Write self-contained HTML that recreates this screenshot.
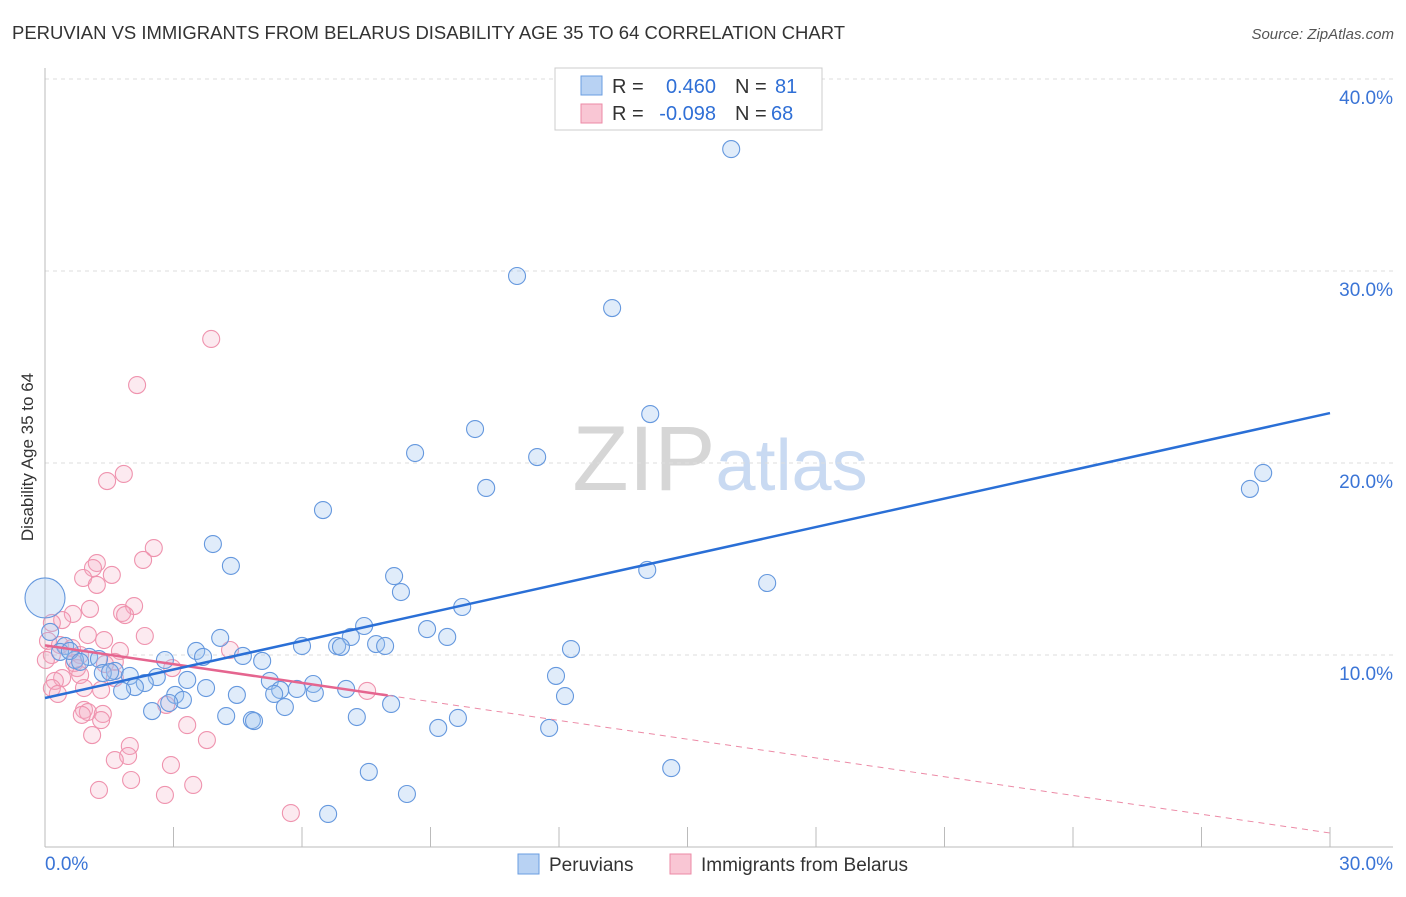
<!DOCTYPE html>
<html><head><meta charset="utf-8"><style>
body{margin:0;background:#fff;font-family:"Liberation Sans",sans-serif;}
svg text{font-family:"Liberation Sans",sans-serif;}
</style></head><body>
<svg id="chart" width="1406" height="892" viewBox="0 0 1406 892" xmlns="http://www.w3.org/2000/svg">
<text x="12" y="39" font-size="18" fill="#333" textLength="833" lengthAdjust="spacingAndGlyphs">PERUVIAN VS IMMIGRANTS FROM BELARUS DISABILITY AGE 35 TO 64 CORRELATION CHART</text>
<text x="1394" y="39" font-size="15" fill="#555" text-anchor="end" font-style="italic">Source: ZipAtlas.com</text>
<text x="720" y="490" font-size="92" text-anchor="middle" fill="#d6d6d6" font-family="Liberation Serif"><tspan>ZIP</tspan><tspan fill="#c9daf2" font-family="Liberation Sans" font-size="72">atlas</tspan></text>
<g id="grid"></g>
<g id="axes"></g>
<g id="marks"></g>
<text transform="translate(33,457) rotate(-90)" font-size="17" fill="#333" text-anchor="middle">Disability Age 35 to 64</text>
<g>
<rect x="555" y="68" width="267" height="62" fill="#fff" stroke="#ccc"/>
<rect x="581" y="76" width="21" height="19" fill="#b8d2f3" stroke="#6a9de0"/>
<rect x="581" y="104" width="21" height="19" fill="#f9c6d4" stroke="#ec8aa6"/>
<text x="612" y="93" font-size="20" fill="#333">R =</text>
<text x="716" y="93" font-size="20" fill="#2f6fd6" text-anchor="end">0.460</text>
<text x="735" y="93" font-size="20" fill="#333">N =</text>
<text x="775" y="93" font-size="20" fill="#2f6fd6">81</text>
<text x="612" y="120" font-size="20" fill="#333">R =</text>
<text x="716" y="120" font-size="20" fill="#2f6fd6" text-anchor="end">-0.098</text>
<text x="735" y="120" font-size="20" fill="#333">N =</text>
<text x="771" y="120" font-size="20" fill="#2f6fd6">68</text>
</g>
<g>
<rect x="518" y="854" width="21" height="20" fill="#b8d2f3" stroke="#6a9de0"/>
<text x="549" y="871" font-size="19" fill="#333">Peruvians</text>
<rect x="670" y="854" width="21" height="20" fill="#f9c6d4" stroke="#ec8aa6"/>
<text x="701" y="871" font-size="19" fill="#333">Immigrants from Belarus</text>
</g>
</svg>
<script>
const blueX=[16.02,11.02,13.24,14.13,10.04,11.49,8.64,10.30,28.44,28.13,6.49,3.92,4.34,8.15,8.31,16.86,14.06,9.74,7.45,8.92,7.14,9.39,4.09,6.82,6.91,7.73,7.94,6.00,12.28,3.53,4.62,5.07,3.69,2.80,2.61,1.03,1.26,0.70,0.47,0.35,0.58,0.82,1.63,1.35,1.98,2.33,2.10,1.80,3.32,3.76,4.48,3.04,3.22,2.90,2.50,5.25,5.49,5.35,5.88,6.26,6.30,7.03,8.08,5.60,4.23,4.83,4.88,7.28,9.64,9.18,11.77,11.93,12.14,14.62,7.56,8.45,6.61,0.12,1.52];
const blueY=[36.35,29.74,28.07,22.55,21.77,20.31,20.52,18.70,19.48,18.65,17.55,15.78,14.64,14.11,13.28,13.75,14.43,12.50,11.51,11.35,10.94,10.94,10.89,10.47,10.42,10.57,10.47,10.47,10.31,10.21,9.95,9.69,9.90,9.74,8.85,9.90,9.79,9.74,10.47,10.16,10.21,9.64,9.17,9.06,8.91,8.54,8.33,8.13,8.70,8.28,7.92,7.92,7.66,7.50,7.08,8.65,8.18,7.97,8.23,8.49,8.02,8.23,7.45,7.29,6.82,6.61,6.56,6.77,6.72,6.20,6.20,8.91,7.86,4.11,3.91,2.76,1.72,11.20,9.11];
const pinkX=[3.88,2.15,1.84,1.45,2.54,2.29,1.21,1.12,1.56,0.89,1.21,2.08,1.80,1.87,1.05,0.65,0.40,0.16,1.00,2.33,1.38,0.07,0.35,0.63,0.16,1.75,4.32,0.02,0.82,1.63,0.68,1.40,2.97,0.75,1.63,0.82,0.40,0.23,0.16,0.30,0.91,1.31,2.83,0.91,1.00,1.35,3.32,0.86,1.31,1.10,3.78,1.98,1.94,1.63,2.94,2.01,3.46,1.26,2.80,5.74,7.52];
const pinkY=[26.46,24.06,19.43,19.06,15.57,14.95,14.79,14.53,14.17,14.01,13.65,12.55,12.19,12.08,12.40,12.14,11.82,11.67,11.04,10.99,10.78,10.73,10.52,10.36,10.00,10.21,10.26,9.74,10.00,9.64,9.58,9.53,9.32,9.32,8.80,8.96,8.80,8.65,8.28,7.97,8.28,8.18,7.40,7.14,7.03,6.93,6.35,6.88,6.61,5.83,5.57,5.26,4.74,4.53,4.27,3.49,3.23,2.97,2.71,1.77,8.13];
const bigX=[0.0], bigY=[12.97];
const yTicks=[10,20,30,40];
const xTickLabels=["0.0%","30.0%"];
const blueTrend=[7.76,22.6], pinkTrend=[10.5,0.73], pinkSolidEnd=8.0;

const NS="http://www.w3.org/2000/svg";
const X=v=>45+v*(1285/30), Y=v=>847-v*19.2;
function mk(tag,attrs,parent){const e=document.createElementNS(NS,tag);for(const k in attrs)e.setAttribute(k,attrs[k]);parent.appendChild(e);return e;}
const grid=document.getElementById('grid'),axes=document.getElementById('axes'),marks=document.getElementById('marks');
yTicks.forEach(t=>{
 const l=mk('line',{x1:45,x2:1393,y1:Y(t),y2:Y(t),stroke:'#ddd','stroke-dasharray':'4,4'},grid);
 
 
 const tx=mk('text',{x:1393,y:Y(t)+25,'font-size':19,fill:'#3a74d6','text-anchor':'end'},grid);
 tx.textContent=t.toFixed(1)+'%';
 
 
});
const ya=mk('line',{x1:45,x2:45,y1:68,y2:847,stroke:'#bbb'},axes);


const xa=mk('line',{x1:45,x2:1393,y1:847,y2:847,stroke:'#bbb'},axes);


for(let i=0;i<=10;i++){
 const t=mk('line',{x1:X(i*3),x2:X(i*3),y1:827,y2:847,stroke:'#bbb'},axes);
 
 
}
[[0,'start',45],[1,'end',1393]].forEach(([i,a,x])=>{
 const t=mk('text',{x:x,y:870,'font-size':19,fill:'#3a74d6','text-anchor':a},axes);
 t.textContent=xTickLabels[i];
 
 
});
pinkX.forEach((v,i)=>{
 const c=mk('circle',{cx:X(v),cy:Y(pinkY[i]),r:8.5,fill:'rgba(245,170,195,0.25)',stroke:'#ef93ae','stroke-width':1.1},marks);
 
 
});
blueX.forEach((v,i)=>{
 const c=mk('circle',{cx:X(v),cy:Y(blueY[i]),r:8.5,fill:'rgba(160,195,240,0.32)',stroke:'#6598de','stroke-width':1.1},marks);
 
 
});
bigX.forEach((v,i)=>{
 const c=mk('circle',{cx:X(v),cy:Y(bigY[i]),r:20,fill:'rgba(160,195,240,0.32)',stroke:'#6598de','stroke-width':1.1},marks);
 
 
});
const pY=x=>pinkTrend[0]+(pinkTrend[1]-pinkTrend[0])*x/30;
const pd=mk('line',{x1:X(pinkSolidEnd),y1:Y(pY(pinkSolidEnd)),x2:X(30),y2:Y(pinkTrend[1]),stroke:'#ec8aa6','stroke-dasharray':'6,5','stroke-width':1},marks);


const ps=mk('line',{x1:X(0),y1:Y(pinkTrend[0]),x2:X(pinkSolidEnd),y2:Y(pY(pinkSolidEnd)),stroke:'#e5658f','stroke-width':2.5},marks);


const bl=mk('line',{x1:X(0),y1:Y(blueTrend[0]),x2:X(30),y2:Y(blueTrend[1]),stroke:'#2a6fd6','stroke-width':2.5},marks);


</script>
</body></html>
